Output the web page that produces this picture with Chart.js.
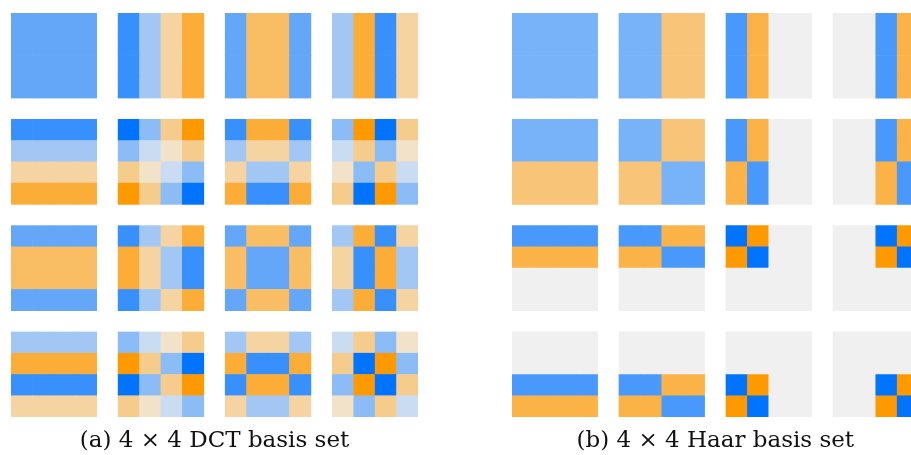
<!DOCTYPE html>
<html>
<head>
<meta charset="utf-8">
<script src="https://cdn.jsdelivr.net/npm/chart.js@4.4.1/dist/chart.umd.min.js"></script>
<style>
html, body { margin: 0; padding: 0; background: #fff; width: 911px; height: 455px; overflow: hidden; position: relative; }
canvas { position: absolute; top: 0; }
#dct_chart { left: 0; }
#haar_chart { left: 440px; }
</style>
</head>
<body>
<canvas id="dct_chart" width="440" height="455"></canvas>
<canvas id="haar_chart" width="480" height="455"></canvas>
<script>
// every tile is 4 rows of 4 cells, tiles go left to right then top to bottom
// positive = blue, negative = orange, 0 = grey
const dctTiles = [
    [[0.25, 0.25, 0.25, 0.25], [0.25, 0.25, 0.25, 0.25], [0.25, 0.25, 0.25, 0.25], [0.25, 0.25, 0.25, 0.25]],
    [[0.33, 0.14, -0.14, -0.33], [0.33, 0.14, -0.14, -0.33], [0.33, 0.14, -0.14, -0.33], [0.33, 0.14, -0.14, -0.33]],
    [[0.25, -0.25, -0.25, 0.25], [0.25, -0.25, -0.25, 0.25], [0.25, -0.25, -0.25, 0.25], [0.25, -0.25, -0.25, 0.25]],
    [[0.14, -0.33, 0.33, -0.14], [0.14, -0.33, 0.33, -0.14], [0.14, -0.33, 0.33, -0.14], [0.14, -0.33, 0.33, -0.14]],

    [[0.33, 0.33, 0.33, 0.33], [0.14, 0.14, 0.14, 0.14], [-0.14, -0.14, -0.14, -0.14], [-0.33, -0.33, -0.33, -0.33]],
    [[0.43, 0.18, -0.18, -0.43], [0.18, 0.07, -0.07, -0.18], [-0.18, -0.07, 0.07, 0.18], [-0.43, -0.18, 0.18, 0.43]],
    [[0.33, -0.33, -0.33, 0.33], [0.14, -0.14, -0.14, 0.14], [-0.14, 0.14, 0.14, -0.14], [-0.33, 0.33, 0.33, -0.33]],
    [[0.18, -0.43, 0.43, -0.18], [0.07, -0.18, 0.18, -0.07], [-0.07, 0.18, -0.18, 0.07], [-0.18, 0.43, -0.43, 0.18]],

    [[0.25, 0.25, 0.25, 0.25], [-0.25, -0.25, -0.25, -0.25], [-0.25, -0.25, -0.25, -0.25], [0.25, 0.25, 0.25, 0.25]],
    [[0.33, 0.14, -0.14, -0.33], [-0.33, -0.14, 0.14, 0.33], [-0.33, -0.14, 0.14, 0.33], [0.33, 0.14, -0.14, -0.33]],
    [[0.25, -0.25, -0.25, 0.25], [-0.25, 0.25, 0.25, -0.25], [-0.25, 0.25, 0.25, -0.25], [0.25, -0.25, -0.25, 0.25]],
    [[0.14, -0.33, 0.33, -0.14], [-0.14, 0.33, -0.33, 0.14], [-0.14, 0.33, -0.33, 0.14], [0.14, -0.33, 0.33, -0.14]],

    [[0.14, 0.14, 0.14, 0.14], [-0.33, -0.33, -0.33, -0.33], [0.33, 0.33, 0.33, 0.33], [-0.14, -0.14, -0.14, -0.14]],
    [[0.18, 0.07, -0.07, -0.18], [-0.43, -0.18, 0.18, 0.43], [0.43, 0.18, -0.18, -0.43], [-0.18, -0.07, 0.07, 0.18]],
    [[0.14, -0.14, -0.14, 0.14], [-0.33, 0.33, 0.33, -0.33], [0.33, -0.33, -0.33, 0.33], [-0.14, 0.14, 0.14, -0.14]],
    [[0.07, -0.18, 0.18, -0.07], [-0.18, 0.43, -0.43, 0.18], [0.18, -0.43, 0.43, -0.18], [-0.07, 0.18, -0.18, 0.07]]
]

const haarTiles = [
    [[0.25, 0.25, 0.25, 0.25], [0.25, 0.25, 0.25, 0.25], [0.25, 0.25, 0.25, 0.25], [0.25, 0.25, 0.25, 0.25]],
    [[0.25, 0.25, -0.25, -0.25], [0.25, 0.25, -0.25, -0.25], [0.25, 0.25, -0.25, -0.25], [0.25, 0.25, -0.25, -0.25]],
    [[0.35, -0.35, 0, 0], [0.35, -0.35, 0, 0], [0.35, -0.35, 0, 0], [0.35, -0.35, 0, 0]],
    [[0, 0, 0.35, -0.35], [0, 0, 0.35, -0.35], [0, 0, 0.35, -0.35], [0, 0, 0.35, -0.35]],

    [[0.25, 0.25, 0.25, 0.25], [0.25, 0.25, 0.25, 0.25], [-0.25, -0.25, -0.25, -0.25], [-0.25, -0.25, -0.25, -0.25]],
    [[0.25, 0.25, -0.25, -0.25], [0.25, 0.25, -0.25, -0.25], [-0.25, -0.25, 0.25, 0.25], [-0.25, -0.25, 0.25, 0.25]],
    [[0.35, -0.35, 0, 0], [0.35, -0.35, 0, 0], [-0.35, 0.35, 0, 0], [-0.35, 0.35, 0, 0]],
    [[0, 0, 0.35, -0.35], [0, 0, 0.35, -0.35], [0, 0, -0.35, 0.35], [0, 0, -0.35, 0.35]],

    [[0.35, 0.35, 0.35, 0.35], [-0.35, -0.35, -0.35, -0.35], [0, 0, 0, 0], [0, 0, 0, 0]],
    [[0.35, 0.35, -0.35, -0.35], [-0.35, -0.35, 0.35, 0.35], [0, 0, 0, 0], [0, 0, 0, 0]],
    [[0.5, -0.5, 0, 0], [-0.5, 0.5, 0, 0], [0, 0, 0, 0], [0, 0, 0, 0]],
    [[0, 0, 0.5, -0.5], [0, 0, -0.5, 0.5], [0, 0, 0, 0], [0, 0, 0, 0]],

    [[0, 0, 0, 0], [0, 0, 0, 0], [0.35, 0.35, 0.35, 0.35], [-0.35, -0.35, -0.35, -0.35]],
    [[0, 0, 0, 0], [0, 0, 0, 0], [0.35, 0.35, -0.35, -0.35], [-0.35, -0.35, 0.35, 0.35]],
    [[0, 0, 0, 0], [0, 0, 0, 0], [0.5, -0.5, 0, 0], [-0.5, 0.5, 0, 0]],
    [[0, 0, 0, 0], [0, 0, 0, 0], [0, 0, 0.5, -0.5], [0, 0, -0.5, 0.5]]
]

const captionDct = "(a) 4 × 4 DCT basis set"
const captionHaar = "(b) 4 × 4 Haar basis set"

const grey = [240, 240, 240]
const blue = [0, 115, 255]
const orange = [255, 153, 0]

function cellColour(v, vmax) {
    let t = Math.min(Math.abs(v) / vmax, 1)
    let end = v >= 0 ? blue : orange
    let c = grey.map((g, k) => Math.round(g + (end[k] - g) * t))
    return "rgb(" + c.join(",") + ")"
}

function makeBasisChart(canvas_id, tiles, caption, padding) {
    // colours are scaled to the biggest value of the set
    let vmax = 0
    tiles.forEach(tile => tile.forEach(row => row.forEach(v => { vmax = Math.max(vmax, Math.abs(v)) })))

    let points = []
    let colours = []
    for (let n = 0; n < tiles.length; n++) {
        let r = Math.floor(n / 4)
        let c = n % 4
        for (let i = 0; i < 4; i++) {
            for (let j = 0; j < 4; j++) {
                // one cell = one unit, one unit of gap between tiles
                points.push({ x: c * 5 + j + 0.5, y: [r * 5 + i, r * 5 + i + 1] })
                colours.push(cellColour(tiles[n][i][j], vmax))
            }
        }
    }

    return new Chart(document.getElementById(canvas_id), {
        type: 'bar',
        data: {
            datasets: [{
                data: points,
                backgroundColor: colours,
                borderWidth: 0,
                barPercentage: 1,
                categoryPercentage: 1
            }]
        },
        options: {
            responsive: false,
            animation: false,
            layout: { padding: padding },
            scales: {
                x: { type: 'linear', min: 0, max: 19, offset: false, display: false, ticks: { stepSize: 1 } },
                y: { type: 'linear', min: 0, max: 19, reverse: true, display: false, ticks: { stepSize: 1 } }
            },
            plugins: {
                legend: { display: false },
                tooltip: { enabled: false },
                title: {
                    display: true,
                    text: caption,
                    position: 'bottom',
                    color: '#111111',
                    font: { family: "'DejaVu Serif', serif", size: 23, weight: 'normal', lineHeight: 1.2 },
                    padding: { top: 10.4, bottom: 0 }
                }
            }
        }
    })
}

makeBasisChart("dct_chart", dctTiles, captionDct, { left: 11, right: 22, top: 13, bottom: 0 })
makeBasisChart("haar_chart", haarTiles, captionHaar, { left: 72, right: 1.4, top: 13, bottom: 0 })
</script>
</body>
</html>
